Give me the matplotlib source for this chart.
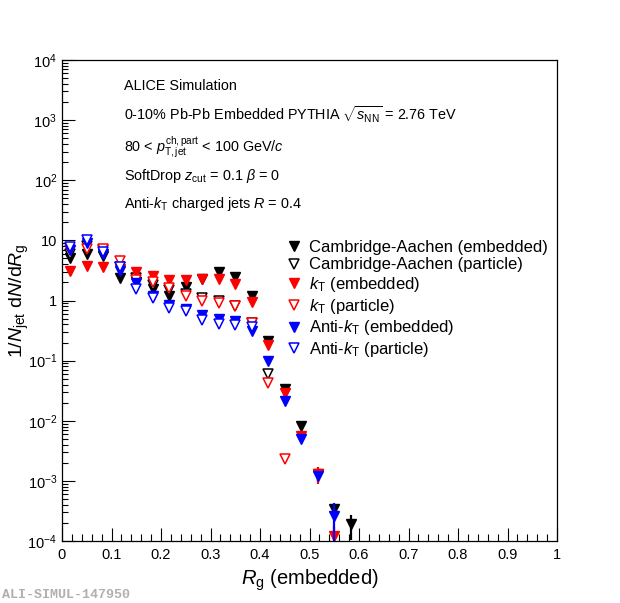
import numpy as np
import matplotlib
matplotlib.use("Agg")
import matplotlib.pyplot as plt
from matplotlib.ticker import FixedLocator, FixedFormatter, LogLocator, NullFormatter

plt.rcParams["font.family"] = ["Liberation Sans", "DejaVu Sans"]
plt.rcParams["mathtext.fontset"] = "custom"
plt.rcParams["mathtext.rm"] = "Liberation Sans"
plt.rcParams["mathtext.it"] = "Liberation Sans:italic"
plt.rcParams["mathtext.bf"] = "Liberation Sans:bold"

nan = np.nan

# bin centres in R_g (bin width 1/30)
rg = [0.0167, 0.05, 0.0833, 0.1167, 0.15, 0.1833, 0.2167, 0.25, 0.2833,
      0.3167, 0.35, 0.3833, 0.4167, 0.45, 0.4833, 0.5167, 0.55, 0.5833]

ca_emb = [5.0, 6.0, 5.5, 2.4, 2.0, 1.55, 1.18, 1.66, 2.25,
          2.95, 2.5, 1.2, 0.214, 0.034, 0.0082, 0.0013, 3.35e-4, 1.9e-4]
ca_emb_err = [0, 0, 0, 0, 0, 0, 0, 0, 0,
              0, 0, 0, 0, 0, 0, 0.0003, 0.8e-4, 0.85e-4]

ca_part = [6.0, 8.0, 6.8, 3.6, 2.35, 1.8, 1.5, 1.3, 1.1,
           0.99, 0.82, 0.42, 0.060, nan, nan, nan, nan, nan]

kt_emb = [3.1, 3.7, 3.6, 3.3, 2.95, 2.55, 2.2, 2.2, 2.3,
          2.28, 1.9, 0.93, 0.18, 0.029, 0.0056, 0.0013, 1.2e-4, nan]
kt_emb_err = [0, 0, 0, 0, 0, 0, 0, 0, 0,
              0, 0, 0, 0, 0, 0, 0.0004, 0.5e-4, 0]

kt_part = [7.0, 7.2, 7.2, 4.6, 2.2, 2.05, 1.6, 1.2, 1.0,
           0.9, 0.82, 0.42, 0.042, 0.0023, nan, nan, nan, nan]

akt_emb = [7.0, 9.1, 6.0, 3.1, 1.95, 1.2, 0.84, 0.72, 0.57,
           0.49, 0.45, 0.31, 0.099, 0.0214, 0.0049, 0.0012, 2.6e-4, nan]
akt_emb_err = [0, 0, 0, 0, 0, 0, 0, 0, 0,
               0, 0, 0, 0, 0, 0, 0.0002, 1.7e-4, 0]

akt_part = [7.7, 10.3, 6.4, 3.6, 1.55, 1.1, 0.75, 0.66, 0.47,
            0.41, 0.39, 0.36, nan, nan, nan, nan, nan, nan]

y_ticks = [1e-4, 1e-3, 1e-2, 1e-1, 1, 10, 1e2, 1e3, 1e4]
y_labels = [r"$10^{-4}$", r"$10^{-3}$", r"$10^{-2}$", r"$10^{-1}$", "1", "10",
            r"$10^{2}$", r"$10^{3}$", r"$10^{4}$"]
x_ticks = [0, 0.1, 0.2, 0.3, 0.4, 0.5, 0.6, 0.7, 0.8, 0.9, 1.0]
x_labels = ["0", "0.1", "0.2", "0.3", "0.4", "0.5", "0.6", "0.7", "0.8", "0.9", "1"]

fig = plt.figure(figsize=(6.2, 6.03), dpi=100)
ax = fig.add_axes([62 / 620, 1 - 541 / 603, 495 / 620, 481 / 603])

ms = 7.5
handles = []

def full(x, y, err, color, label):
    ax.errorbar(x, y, yerr=err, fmt="none", ecolor=color, elinewidth=1.6, capsize=0)
    h, = ax.plot(x, y, "v", color=color, ms=ms, linestyle="none", label=label)
    handles.append(h)

def hollow(x, y, color, label):
    h, = ax.plot(x, y, "v", ms=ms, mfc="white", mec=color, mew=1.1,
                 linestyle="none", label=label)
    handles.append(h)

full(rg, ca_emb, ca_emb_err, "black", "Cambridge-Aachen (embedded)")
hollow(rg, ca_part, "black", "Cambridge-Aachen (particle)")
full(rg, kt_emb, kt_emb_err, "red", r"$k_{\mathrm{T}}$ (embedded)")
hollow(rg, kt_part, "red", r"$k_{\mathrm{T}}$ (particle)")
full(rg, akt_emb, akt_emb_err, "blue", r"Anti-$k_{\mathrm{T}}$ (embedded)")
hollow(rg, akt_part, "blue", r"Anti-$k_{\mathrm{T}}$ (particle)")

ax.set_yscale("log")
ax.set_xlim(0, 1)
ax.set_ylim(1e-4, 1e4)

ax.xaxis.set_major_locator(FixedLocator(x_ticks))
ax.xaxis.set_major_formatter(FixedFormatter(x_labels))
ax.xaxis.set_minor_locator(FixedLocator(np.arange(0, 1.001, 0.02)))
ax.yaxis.set_major_locator(FixedLocator(y_ticks))
ax.yaxis.set_major_formatter(FixedFormatter(y_labels))
ax.yaxis.set_minor_locator(LogLocator(base=10, subs=np.arange(2, 10), numticks=20))
ax.yaxis.set_minor_formatter(NullFormatter())

ax.tick_params(which="both", direction="in", top=False, right=False,
               labelsize=10.5, width=0.8)
ax.tick_params(axis="x", which="major", length=9.5, pad=5)
ax.tick_params(axis="x", which="minor", length=5)
ax.tick_params(axis="y", which="major", length=9)
ax.tick_params(axis="y", which="minor", length=4.5)
for s in ax.spines.values():
    s.set_linewidth(0.9)

ax.set_xlabel(r"$R_{\mathrm{g}}$ (embedded)", fontsize=14.5, labelpad=4)
ax.set_ylabel(r"1/$N_{\mathrm{jet}}$ d$N$/d$R_{\mathrm{g}}$", fontsize=14)
ax.yaxis.set_label_coords(-0.062, 0.5)

txt = [
    "ALICE Simulation",
    r"0-10% Pb-Pb Embedded PYTHIA $\sqrt{s_{\mathrm{NN}}}$ = 2.76 TeV",
    r"80 < $p_{\mathrm{T,jet}}^{\mathrm{ch,part}}$ < 100 GeV/$c$",
    r"SoftDrop $z_{\mathrm{cut}}$ = 0.1 $\beta$ = 0",
    r"Anti-$k_{\mathrm{T}}$ charged jets $R$ = 0.4",
]
txt_y = [0.9376, 0.8753, 0.8087, 0.7505, 0.6923]
for t, yy in zip(txt, txt_y):
    ax.text(0.125, yy, t, transform=ax.transAxes, fontsize=10.4, va="baseline")

ax.legend(handles=handles, loc="upper left", bbox_to_anchor=(0.435, 0.64),
          frameon=False, fontsize=12, handletextpad=0.3, labelspacing=0.16,
          handlelength=1.2, borderaxespad=0)

fig.text(0.003, 1 - 595 / 603, "ALI-SIMUL-147950", color="#b0b0b0",
         fontsize=9.6, family="Liberation Mono", va="center", weight="bold")

fig.savefig("out.png", dpi=100)
